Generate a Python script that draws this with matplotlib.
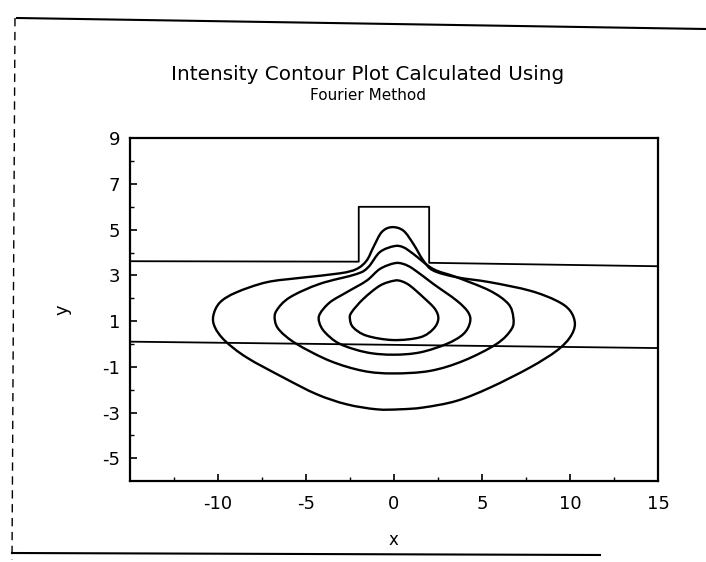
import matplotlib
matplotlib.use("Agg")
import matplotlib.pyplot as plt
from matplotlib.lines import Line2D
from matplotlib.path import Path
from matplotlib.patches import PathPatch

plt.rcParams['axes.unicode_minus'] = False
plt.rcParams['font.family'] = ['DejaVu Sans']

# ---- data ----
title_main = "Intensity Contour Plot Calculated Using"
title_sub = "Fourier Method"
x_ticks = [-10, -5, 0, 5, 10, 15]
y_ticks = [-5, -3, -1, 1, 3, 5, 7, 9]
x_minor = [-12.5, -7.5, -2.5, 2.5, 7.5, 12.5]
y_minor = [-4, -2, 0, 2, 4, 6, 8]

# waveguide structure outline (upper slab edge with rib, lower slab edge)
rib_x = [-15, -2.0, -2.0, 2.0, 2.0, 15]
rib_y = [3.62, 3.6, 6.0, 6.0, 3.55, 3.4]
lower_x = [-15, 15]
lower_y = [0.1, -0.18]

# intensity contours (outer to inner)
c1_x = [-0.13, -0.70, -1.17, -1.55, -2.12, -3.07, -5.34, -7.23, -8.94, -9.88,
        -10.26, -10.17, -9.60, -8.37, -6.28, -4.39, -2.69, -0.98, 0.34, 1.67,
        3.56, 5.46, 7.73, 9.24, 10.00, 10.28, 10.00, 9.24, 7.73, 5.46,
        3.56, 2.24, 1.67, 1.10, 0.53]
c1_y = [5.11, 4.89, 4.23, 3.65, 3.28, 3.09, 2.89, 2.70, 2.26, 1.82,
        1.24, 0.73, 0.14, -0.59, -1.47, -2.20, -2.64, -2.86, -2.86, -2.78,
        -2.49, -1.91, -1.03, -0.30, 0.29, 0.87, 1.46, 1.89, 2.33, 2.70,
        2.92, 3.21, 3.65, 4.38, 4.96]

c2_x = [0.02, -0.80, -1.46, -2.12, -4.21, -5.91, -6.67, -6.76, -6.48, -5.53,
        -3.64, -1.74, -0.04, 2.04, 3.94, 5.83, 6.68, 6.78, 6.50, 5.45,
        3.56, 2.23, 1.10, 0.53]
c2_y = [4.28, 4.02, 3.36, 3.06, 2.63, 2.04, 1.46, 1.02, 0.58, 0.00,
        -0.74, -1.18, -1.29, -1.18, -0.74, 0.00, 0.65, 1.16, 1.75, 2.33,
        2.92, 3.28, 3.94, 4.23]

c3_x = [0.02, -0.80, -1.55, -2.69, -3.64, -4.21, -4.24, -3.92, -3.07, -1.55,
        -0.04, 1.48, 2.99, 3.94, 4.32, 4.22, 3.56, 2.23, 1.10, 0.53]
c3_y = [3.53, 3.28, 2.77, 2.26, 1.82, 1.31, 0.94, 0.51, 0.00, -0.37,
        -0.47, -0.37, 0.00, 0.43, 0.94, 1.38, 1.90, 2.63, 3.28, 3.50]

c4_x = [0.02, -0.80, -1.74, -2.41, -2.50, -2.31, -1.55, -0.04, 1.48, 2.23,
        2.52, 2.33, 1.67, 0.91, 0.44]
c4_y = [2.77, 2.55, 1.97, 1.38, 1.09, 0.72, 0.36, 0.17, 0.29, 0.65,
        1.09, 1.53, 2.04, 2.55, 2.74]

contours = [(c1_x, c1_y), (c2_x, c2_y), (c3_x, c3_y), (c4_x, c4_y)]


def smooth_closed_path(xs, ys):
    """Closed cubic Bezier path passing through every given point."""
    n = len(xs)
    pts = list(zip(xs, ys))
    verts = [pts[0]]
    codes = [Path.MOVETO]
    for i in range(n):
        p0 = pts[(i - 1) % n]
        p1 = pts[i]
        p2 = pts[(i + 1) % n]
        p3 = pts[(i + 2) % n]
        c1 = (p1[0] + (p2[0] - p0[0]) / 6.0, p1[1] + (p2[1] - p0[1]) / 6.0)
        c2 = (p2[0] - (p3[0] - p1[0]) / 6.0, p2[1] - (p3[1] - p1[1]) / 6.0)
        verts += [c1, c2, p2]
        codes += [Path.CURVE4, Path.CURVE4, Path.CURVE4]
    return Path(verts, codes)


# ---- figure ----
fig = plt.figure(figsize=(7.06, 5.62), dpi=100)
ax = fig.add_axes([0.184, 0.144, 0.748, 0.610])

ax.plot(rib_x, rib_y, color='black', lw=1.3)
ax.plot(lower_x, lower_y, color='black', lw=1.3)
for cx, cy in contours:
    ax.add_patch(PathPatch(smooth_closed_path(cx, cy), facecolor='none',
                           edgecolor='black', lw=1.7, joinstyle='round'))

ax.set_xlim(-15, 15)
ax.set_ylim(-6, 9)
ax.set_xticks(x_ticks)
ax.set_yticks(y_ticks)
ax.set_xticks(x_minor, minor=True)
ax.set_yticks(y_minor, minor=True)
ax.tick_params(axis='both', which='major', direction='in', length=5,
               width=1.2, labelsize=13, top=False, right=False)
ax.tick_params(axis='x', which='major', pad=10)
ax.tick_params(axis='y', which='major', pad=7)
ax.tick_params(axis='both', which='minor', direction='in', length=3,
               width=1.0, top=False, right=False)
for s in ax.spines.values():
    s.set_linewidth(1.6)

ax.set_xlabel('x', fontsize=12)
ax.xaxis.set_label_coords(0.5, -0.145)
ax.set_ylabel('y', fontsize=13)
ax.yaxis.set_label_coords(-0.11, 0.5)

fig.text(0.521, 1 - 80 / 562, title_main, ha='center', va='baseline', fontsize=14.4)
fig.text(0.521, 1 - 100 / 562, title_sub, ha='center', va='baseline', fontsize=11)

# scanned page frame lines
fig.add_artist(Line2D([17/706, 1.0], [1-18/562, 1-29/562], color='black', lw=1.5))
fig.add_artist(Line2D([15/706, 12/706], [1-18/562, 1-560/562], color='black',
                      lw=1.0, ls=(0, (6, 4))))
fig.add_artist(Line2D([12/706, 600/706], [1-553/562, 1-555/562], color='black', lw=1.5))

fig.savefig('out.png', dpi=100)
